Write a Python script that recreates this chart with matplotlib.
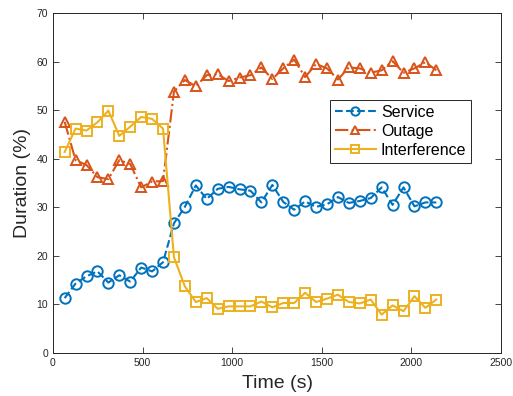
import numpy as np
import matplotlib.pyplot as plt

plt.rcParams['font.family'] = ['Liberation Sans', 'DejaVu Sans']

# tiempos de muestreo (s)
tiempo = [65, 126, 187, 248, 309, 370, 431, 492, 553, 614, 675, 736, 797, 858,
          919, 980, 1041, 1102, 1163, 1224, 1285, 1346, 1407, 1468, 1529, 1590,
          1651, 1712, 1773, 1834, 1895, 1956, 2017, 2078, 2139]

service = [11.3, 14.3, 15.8, 16.8, 14.5, 16.0, 14.7, 17.6, 16.8, 18.7,
           26.7, 30.1, 34.5, 31.7, 33.8, 34.2, 33.7, 33.4, 31.0, 34.6,
           31.1, 29.5, 31.2, 30.1, 30.6, 32.1, 30.9, 31.3, 31.9, 34.1,
           30.5, 34.1, 30.2, 31.0, 31.0]

outage = [47.6, 39.7, 38.7, 36.2, 35.8, 39.7, 38.9, 34.1, 35.3, 35.4,
          53.8, 56.2, 54.9, 57.2, 57.4, 56.0, 56.7, 57.2, 58.8, 56.4,
          58.6, 60.4, 56.8, 59.5, 58.6, 56.3, 58.8, 58.6, 57.7, 58.2,
          60.1, 57.7, 58.6, 59.9, 58.2]

interference = [41.4, 46.2, 45.8, 47.5, 49.9, 44.7, 46.6, 48.6, 48.2, 46.2,
                19.7, 13.7, 10.5, 11.3, 9.1, 9.6, 9.6, 9.6, 10.6, 9.4,
                10.3, 10.3, 12.4, 10.5, 11.2, 12.0, 10.5, 10.2, 11.0, 7.9,
                9.8, 8.6, 11.7, 9.3, 11.0]

fig = plt.figure(figsize=(5.13, 3.96), dpi=100)
ax = fig.add_axes([53/513, 1-353/396, 448/513, 340/396])

estilo = dict(markerfacecolor='none', markersize=7.5, markeredgewidth=1.4, linewidth=1.5)
ax.plot(tiempo, service, '--o', color='#0072BD', label='Service', **estilo)
ax.plot(tiempo, outage, '-.^', color='#D95319', label='Outage', **estilo)
ax.plot(tiempo, interference, '-s', color='#EDB120', label='Interference', **estilo)

ax.set_xlim(0, 2500)
ax.set_ylim(0, 70)
ax.set_xticks([0, 500, 1000, 1500, 2000, 2500])
ax.set_yticks(np.arange(0, 71, 10))
ax.tick_params(direction='in', top=True, right=True, labelsize=7.5,
               colors='#262626', length=4, width=0.6)
for s in ax.spines.values():
    s.set_color('#262626')
    s.set_linewidth(0.7)

ax.set_xlabel('Time (s)', fontsize=14, color='#262626', labelpad=5)
ax.set_ylabel('Duration (%)', fontsize=14, color='#262626', labelpad=4)

leg = ax.legend(loc='upper left', bbox_to_anchor=(0.618, 0.744), borderaxespad=0,
                fontsize=11.5, fancybox=False, framealpha=1, edgecolor='#262626',
                handlelength=2.6, handletextpad=0.3, borderpad=0.3, labelspacing=0.25,
                markerscale=0.8)
leg.get_frame().set_linewidth(0.7)

fig.savefig('out.png', dpi=100)
